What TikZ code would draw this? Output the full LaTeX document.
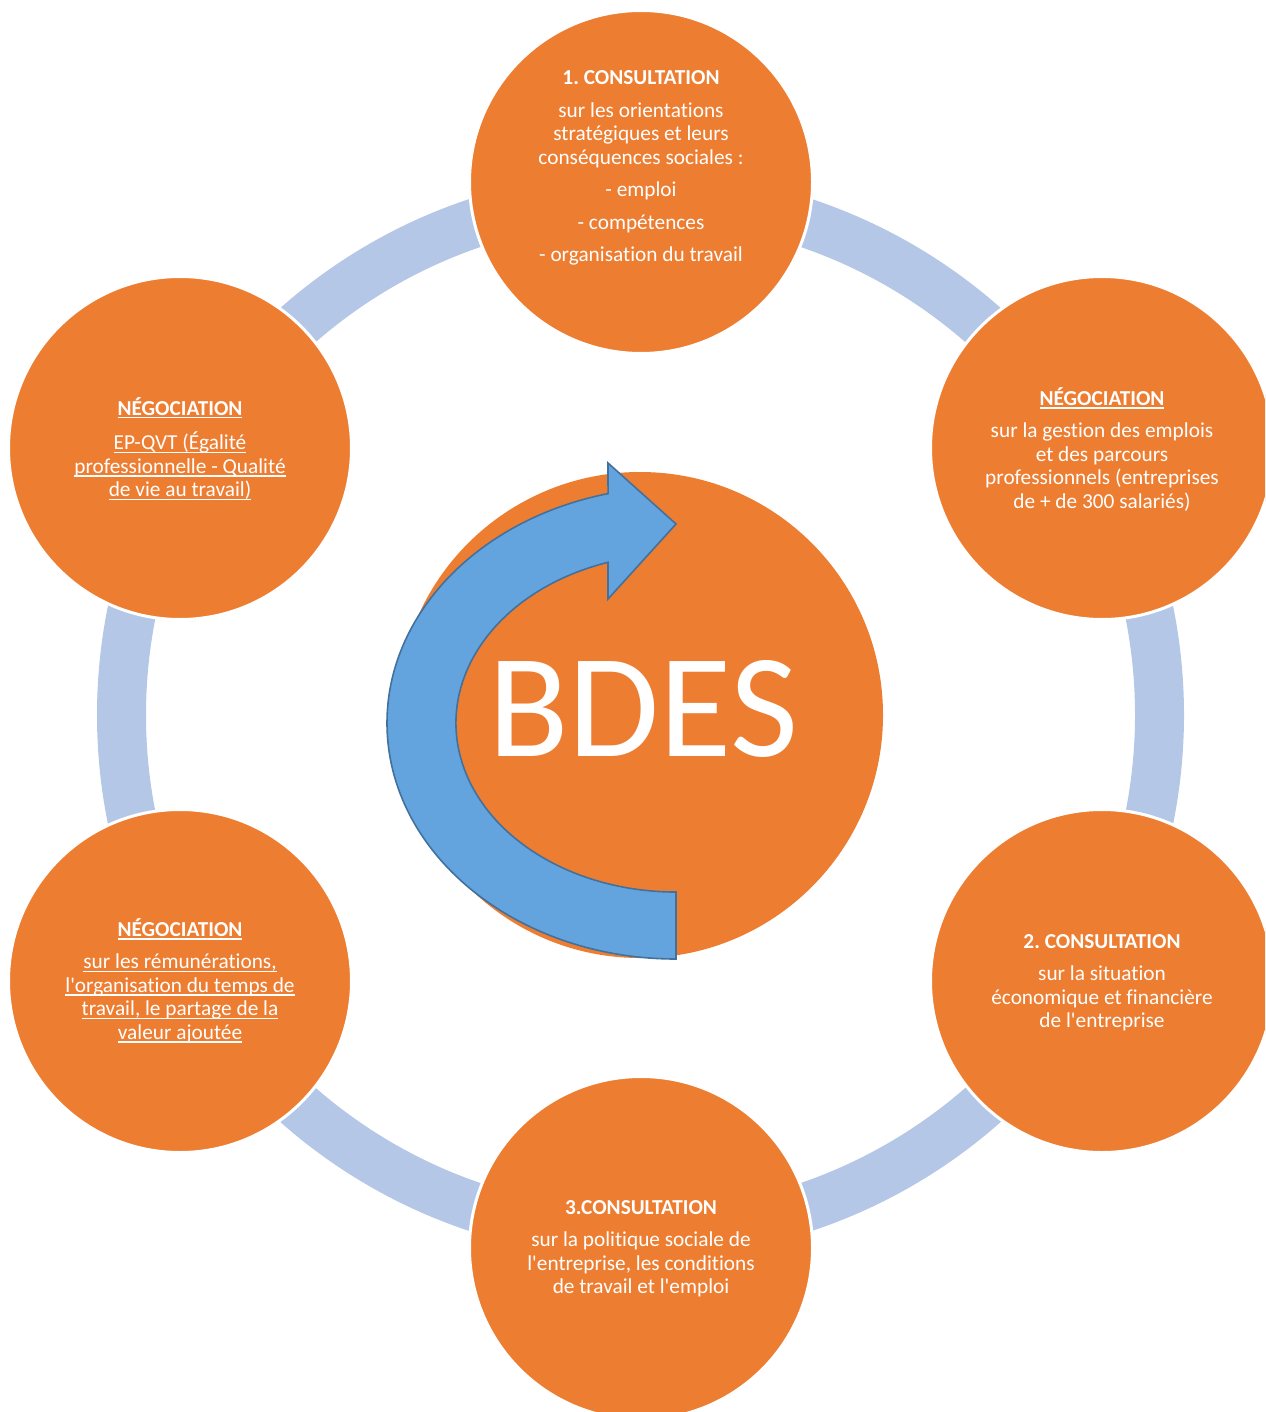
\documentclass[tikz,border=0pt]{standalone}
\usepackage{fontspec}
\setmainfont{Carlito}[Ligatures=NoCommon]
\frenchspacing

\definecolor{bubbleorange}{RGB}{237,125,49}
\definecolor{ringblue}{RGB}{180,199,231}
\definecolor{arrowfill}{RGB}{99,164,223}
\definecolor{arrowline}{RGB}{65,113,156}

% straight apostrophe
\newcommand\ap{\textquotesingle}
% underline a single line of text at a fixed depth below the baseline
\newsavebox\ulinebox
\newcommand\ulline[1]{\sbox\ulinebox{#1}\rlap{\rule[-3.4pt]{\wd\ulinebox}{1.4pt}}\usebox\ulinebox}

\tikzset{
  bubble/.style={circle, fill=bubbleorange, draw=white, line width=3pt,
                 minimum size=343pt, inner sep=0pt},
  hub/.style={circle, fill=bubbleorange, minimum size=486pt, inner sep=0pt},
  caption/.style={text=white, align=center, inner sep=0pt,
                  font=\fontsize{21.3}{23.5}\selectfont},
  hubtext/.style={text=white, inner sep=0pt, font=\fontsize{148}{160}\selectfont},
  cyclearrow/.style={fill=arrowfill, draw=arrowline, line width=1.6pt, line join=miter},
}

\begin{document}
\begin{tikzpicture}[x=1pt, y=1pt]
  \useasboundingbox (0,-1412) rectangle (1265,0);
  \clip (0,-1412) rectangle (1265,0);

  % the ring linking the six steps
  \coordinate (o) at (640.5,-715);
  \draw[ringblue, line width=49pt] (o) circle[radius=519];

  % central hub
  \node[hub] (bdes) at (640,-715) {};

  % six steps around the ring
  \node[bubble] (c1) at (641,-182) {};
  \node[bubble] (n1) at (1102,-448) {};
  \node[bubble] (c2) at (1102,-981) {};
  \node[bubble] (c3) at (641,-1248) {};
  \node[bubble] (n2) at (180,-981) {};
  \node[bubble] (n3) at (180,-448) {};

  % circular arrow over the hub
  \draw[cyclearrow] (676,-959)
      arc[start angle=270, end angle=103.6, x radius=289, y radius=236]
      -- (608,-463) -- (676,-524) -- (608,-599) -- (608,-562.3)
      arc[start angle=108, end angle=270, x radius=220, y radius=169]
      -- cycle;

  \node[hubtext] (bdeslabel) at (643.5,-709) {BDES};

  % step texts
  \node[caption] (t1) at (641,-168.5) {\strut\textbf{1. CONSULTATION}\\[9pt]
      sur les orientations\\ stratégiques et leurs\\ conséquences sociales :\\[9pt]
      - emploi\\[9pt] - compétences\\[9pt] - organisation du travail\strut};

  \node[caption] (t2) at (1102,-451.5) {\strut\textbf{\ulline{NÉGOCIATION}}\\[9pt]
      sur la gestion des emplois\\ et des parcours\\
      professionnels (entreprises\\ de + de 300 salariés)\strut};

  \node[caption] (t3) at (1102,-983.5) {\strut\textbf{2. CONSULTATION}\\[9pt]
      sur la situation\\ économique et financière\\ de l\ap entreprise\strut};

  \node[caption] (t4) at (641,-1249.5) {\strut\textbf{3.CONSULTATION}\\[9pt]
      sur la politique sociale de\\ l\ap entreprise, les conditions\\
      de travail et l\ap emploi\strut};

  \node[caption] (t5) at (180,-982.5) {\strut\textbf{\ulline{NÉGOCIATION}}\\[9pt]
      \ulline{sur les rémunérations,}\\ \ulline{l\ap organisation du temps de}\\
      \ulline{travail, le partage de la}\\ \ulline{valeur ajoutée}\strut};

  \node[caption] (t6) at (180,-450.5) {\strut\textbf{\ulline{NÉGOCIATION}}\\[9pt]
      \ulline{EP-QVT (Égalité}\\ \ulline{professionnelle - Qualité}\\
      \ulline{de vie au travail)}\strut};
\end{tikzpicture}
\end{document}
